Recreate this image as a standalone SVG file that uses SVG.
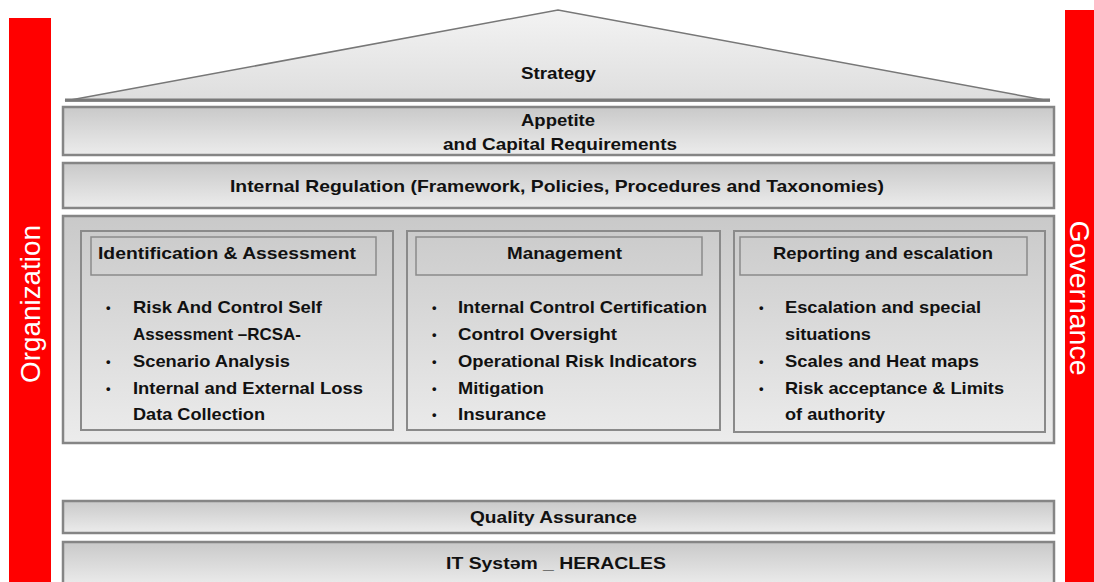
<svg xmlns="http://www.w3.org/2000/svg" width="1094" height="582" viewBox="0 0 1094 582">
<defs>
<linearGradient id="g" x1="0" y1="0" x2="0" y2="1">
<stop offset="0" stop-color="#c9c9c9"/>
<stop offset="1" stop-color="#ececec"/>
</linearGradient>
<linearGradient id="roof" x1="0" y1="0" x2="0" y2="1">
<stop offset="0" stop-color="#f3f3f3"/>
<stop offset="1" stop-color="#dedede"/>
</linearGradient>
<style>
.box{fill:url(#g);stroke:#858585;stroke-width:2.5}
.inner{fill:none;stroke:#8a8a8a;stroke-width:2}
.hdr{fill:none;stroke:#8a8a8a;stroke-width:1.5}
.t{font-family:"Liberation Sans",Arial,sans-serif;font-weight:bold;font-size:17px;fill:#111}
.c{text-anchor:middle}
.b{font-family:"Liberation Sans",Arial,sans-serif;font-weight:bold;font-size:13px;fill:#111}
.side{font-family:"Liberation Sans",Arial,sans-serif;font-size:28px;fill:#fff;text-anchor:middle}
.bar{fill:#ff0000}
</style>
</defs>
<g id="organization">
<rect class="bar" x="9" y="18" width="42" height="564"/>
<text class="side" transform="translate(40,304) rotate(-90)" textLength="158" lengthAdjust="spacingAndGlyphs">Organization</text>
</g>
<g id="governance">
<rect class="bar" x="1065" y="10" width="29" height="572"/>
<text class="side" transform="translate(1070,298) rotate(90)" textLength="155" lengthAdjust="spacingAndGlyphs">Governance</text>
</g>
<g id="strategy">
<polygon points="65,101 558,10 1050,101" fill="url(#roof)" stroke="#777" stroke-width="1.5"/>
<line x1="65" y1="100" x2="1050" y2="100" stroke="#7a7a7a" stroke-width="3"/>
<text class="t c" x="558.5" y="79" textLength="75" lengthAdjust="spacingAndGlyphs">Strategy</text>
</g>
<g id="appetite">
<rect class="box" x="63" y="107" width="991" height="48"/>
<text class="t c" x="558" y="126" textLength="74" lengthAdjust="spacingAndGlyphs">Appetite</text>
<text class="t c" x="560" y="150" textLength="234" lengthAdjust="spacingAndGlyphs">and Capital Requirements</text>
</g>
<g id="regulation">
<rect class="box" x="63" y="163" width="991" height="45"/>
<text class="t c" x="557" y="192" textLength="654" lengthAdjust="spacingAndGlyphs">Internal Regulation (Framework, Policies, Procedures and Taxonomies)</text>
</g>
<g id="processes">
<rect class="box" x="63" y="216" width="991" height="227"/>
</g>
<g id="identification">
<rect class="inner" x="81" y="231" width="312" height="199"/>
<rect class="hdr" x="91" y="237" width="285" height="38"/>
<text class="t" x="98" y="259" textLength="258" lengthAdjust="spacingAndGlyphs">Identification  &amp; Assessment</text>
<g class="b">
<text x="106" y="312">•</text>
<text x="106" y="366">•</text>
<text x="106" y="393">•</text>
</g>
<g class="t">
<text x="133" y="313" textLength="189" lengthAdjust="spacingAndGlyphs">Risk And Control Self</text>
<text x="133" y="340" textLength="168" lengthAdjust="spacingAndGlyphs">Assessment –RCSA-</text>
<text x="133" y="367" textLength="157" lengthAdjust="spacingAndGlyphs">Scenario Analysis</text>
<text x="133" y="394" textLength="230" lengthAdjust="spacingAndGlyphs">Internal and External Loss</text>
<text x="133" y="420" textLength="132" lengthAdjust="spacingAndGlyphs">Data Collection</text>
</g>
</g>
<g id="management">
<rect class="inner" x="407" y="231" width="313" height="199"/>
<rect class="hdr" x="416" y="237" width="286" height="38"/>
<text class="t c" x="564.5" y="259" textLength="115" lengthAdjust="spacingAndGlyphs">Management</text>
<g class="b">
<text x="432" y="312">•</text>
<text x="432" y="339">•</text>
<text x="432" y="366">•</text>
<text x="432" y="393">•</text>
<text x="432" y="419">•</text>
</g>
<g class="t">
<text x="458" y="313" textLength="249" lengthAdjust="spacingAndGlyphs">Internal Control Certification</text>
<text x="458" y="340" textLength="159" lengthAdjust="spacingAndGlyphs">Control Oversight</text>
<text x="458" y="367" textLength="239" lengthAdjust="spacingAndGlyphs">Operational Risk Indicators</text>
<text x="458" y="394" textLength="86" lengthAdjust="spacingAndGlyphs">Mitigation</text>
<text x="458" y="420" textLength="88" lengthAdjust="spacingAndGlyphs">Insurance</text>
</g>
</g>
<g id="reporting">
<rect class="inner" x="734" y="231" width="311" height="201"/>
<rect class="hdr" x="740" y="237" width="287" height="38"/>
<text class="t c" x="883" y="259" textLength="220" lengthAdjust="spacingAndGlyphs">Reporting and escalation</text>
<g class="b">
<text x="759" y="312">•</text>
<text x="759" y="366">•</text>
<text x="759" y="393">•</text>
</g>
<g class="t">
<text x="785" y="313" textLength="196" lengthAdjust="spacingAndGlyphs">Escalation and special</text>
<text x="785" y="340" textLength="86" lengthAdjust="spacingAndGlyphs">situations</text>
<text x="785" y="367" textLength="194" lengthAdjust="spacingAndGlyphs">Scales and Heat maps</text>
<text x="785" y="394" textLength="219" lengthAdjust="spacingAndGlyphs">Risk acceptance &amp; Limits</text>
<text x="785" y="420" textLength="100" lengthAdjust="spacingAndGlyphs">of authority</text>
</g>
</g>
<g id="quality">
<rect class="box" x="63" y="501" width="991" height="32"/>
<text class="t c" x="553.5" y="523" textLength="167" lengthAdjust="spacingAndGlyphs">Quality  Assurance</text>
</g>
<g id="it-system">
<rect class="box" x="63" y="542" width="991" height="44"/>
<text class="t c" x="556" y="569" textLength="220" lengthAdjust="spacingAndGlyphs">IT Systəm _ HERACLES</text>
</g>
<g id="connectors"/>
</svg>
